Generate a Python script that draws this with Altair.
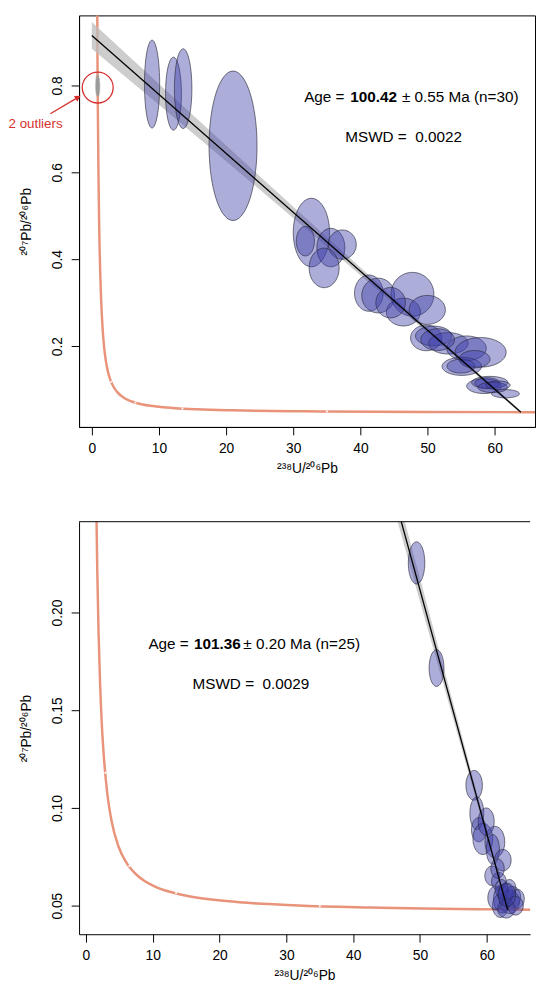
import altair as alt
import numpy as np
import pandas as pd

FONT = "Liberation Sans"

# ---------------- data ----------------
# concordia curve points (238U/206Pb, 207Pb/206Pb)
conc_x = [71.13, 63.97, 42.48, 31.74, 20.99, 15.62, 12.40, 10.25, 8.72, 7.57, 5.96, 4.89,
          3.82, 3.21, 2.75, 2.39, 2.11, 1.88, 1.69, 1.53, 1.39, 1.27, 1.16, 1.07, 0.99,
          0.92, 0.85, 0.81]
conc_y = [0.04783, 0.04804, 0.04907, 0.05013, 0.05236, 0.05472, 0.05724, 0.05994, 0.06278,
          0.06583, 0.07254, 0.08016, 0.09363, 0.10711, 0.12305, 0.14193, 0.16433, 0.19099,
          0.22275, 0.26066, 0.30597, 0.36019, 0.42520, 0.50322, 0.59698, 0.70978, 0.84565,
          0.97421]
# small white age ticks on the concordia
tick_x = [2.9, 6.5, 13.5, 35.0]
tick_y = [0.118, 0.0703, 0.0564, 0.0497]

# ---- panel A (n=30) ----
a_cx = [8.97, 12.16, 13.6, 21.03, 32.7, 31.8, 35.6, 37.3, 34.6, 41.25, 42.65, 47.75, 46.4,
        49.95, 49.8, 50.9, 53.1, 55.8, 57.9, 55.1, 54.97, 58.4, 59.26, 58.9, 61.6, 44.5,
        51.5, 57.0, 59.7, 60.5]
a_cy = [0.803, 0.781, 0.7925, 0.661, 0.4614, 0.4416, 0.4268, 0.4336, 0.380, 0.322, 0.3164,
        0.3193, 0.2784, 0.2834, 0.2189, 0.2234, 0.2064, 0.195, 0.1857, 0.1534, 0.154, 0.108,
        0.1164, 0.1148, 0.0905, 0.300, 0.215, 0.170, 0.105, 0.110]
a_rx = [1.13, 1.18, 1.3, 3.57, 2.7, 1.35, 2.08, 2.08, 2.23, 2.13, 2.45, 3.19, 2.53, 2.7, 2.33,
        2.7, 2.94, 2.94, 3.8, 2.94, 2.08, 2.57, 2.7, 1.84, 2.08, 2.2, 2.5, 2.3, 2.2, 1.8]
a_ry = [0.101, 0.084, 0.0917, 0.172, 0.0788, 0.034, 0.0443, 0.0337, 0.0455, 0.0417, 0.040,
        0.0504, 0.032, 0.0333, 0.0295, 0.0227, 0.0246, 0.0284, 0.034, 0.0208, 0.016, 0.017,
        0.014, 0.0125, 0.0095, 0.035, 0.025, 0.020, 0.012, 0.010]
# rejected outliers
out_cx = [0.85, 0.92]
out_cy = [0.800, 0.797]
out_rx = [0.22, 0.2]
out_ry = [0.023, 0.02]
a_line_x = [0.0, 63.9]
a_line_y = [0.915, 0.0479]
a_band_x = [0, 10, 20, 30, 40, 50, 60, 63.9]
a_band_lo = [0.884, 0.7553, 0.6256, 0.4949, 0.3632, 0.2305, 0.0968, 0.0449]
a_band_hi = [0.946, 0.8033, 0.6616, 0.5209, 0.3812, 0.2425, 0.1048, 0.0509]

# ---- panel B (n=25) ----
b_cx = [49.48, 52.47, 58.1, 58.5, 58.8, 59.4, 61.2, 60.9, 62.4, 60.8, 61.8, 62.3, 63.4, 63.8,
        62.8, 62.0, 64.6, 62.9, 61.3, 63.4, 64.3, 62.2, 59.9, 61.6, 63.0]
b_cy = [0.2254, 0.1716, 0.1116, 0.0973, 0.0889, 0.0842, 0.0826, 0.0788, 0.0733, 0.0653,
        0.0624, 0.0535, 0.052, 0.0545, 0.056, 0.050, 0.0535, 0.0485, 0.054, 0.0586, 0.050,
        0.0586, 0.093, 0.069, 0.0555]
b_rx = [1.23, 1.11, 1.23, 1.03, 1.1, 1.48, 1.48, 0.98, 1.23, 1.1, 1.1, 1.3, 1.5, 1.25,
        1.15, 1.15, 1.0, 1.3, 1.15, 0.95, 1.15, 0.95, 1.2, 1.0, 1.3]
b_ry = [0.0108, 0.0094, 0.0076, 0.0084, 0.0062, 0.008, 0.008, 0.0076, 0.0055, 0.005, 0.0046,
        0.0072, 0.006, 0.0054, 0.0054, 0.006, 0.0048, 0.0048, 0.006, 0.0048, 0.0048, 0.0048,
        0.007, 0.005, 0.006]
b_line_x = [46.0, 63.1]
b_line_y = [0.2614, 0.0480]
b_band_x = [46, 50, 55, 60, 63.1]
b_band_lo = [0.2544, 0.2055, 0.1451, 0.0847, 0.0470]
b_band_hi = [0.2684, 0.2175, 0.1531, 0.0887, 0.0490]

ELL_FILL = "#3c3ca8"
CONC_COL = "#e8937a"
RED = "#d7312f"


def ellipse_df(cx, cy, rx, ry, n=72):
    rows = []
    for i, (a, b, c, d) in enumerate(zip(cx, cy, rx, ry)):
        for k in range(n + 1):
            t = 2 * np.pi * k / n
            rows.append({"id": i, "k": k, "x": a + c * np.cos(t), "y": b + d * np.sin(t)})
    return pd.DataFrame(rows)


def axes(xdom, ydom, yvals, yfmt):
    xe = alt.X("x:Q", scale=alt.Scale(domain=xdom, nice=False, zero=False),
               axis=alt.Axis(values=[0, 10, 20, 30, 40, 50, 60], title="²³⁸U/²⁰⁶Pb",
                             grid=False, tickSize=8, labelPadding=7, titlePadding=6,
                             labelFontSize=14, titleFontSize=14, labelFont=FONT, titleFont=FONT,
                             titleFontWeight="normal", labelColor="black", titleColor="black",
                             domainColor="black", tickColor="black", labelFlush=False))
    ye = alt.Y("y:Q", scale=alt.Scale(domain=ydom, nice=False, zero=False),
               axis=alt.Axis(values=yvals, format=yfmt, title="²⁰⁷Pb/²⁰⁶Pb", grid=False,
                             tickSize=8, labelPadding=7, titlePadding=17, labelAngle=270,
                             labelAlign="center", labelBaseline="bottom",
                             labelFontSize=14, titleFontSize=14, labelFont=FONT, titleFont=FONT,
                             titleFontWeight="normal", labelColor="black", titleColor="black",
                             domainColor="black", tickColor="black", labelFlush=False))
    return xe, ye


def panel(xdom, ydom, yvals, yfmt, cx, cy, rx, ry, lx, ly, bx, blo, bhi, texts, extra=None):
    xe, ye = axes(xdom, ydom, yvals, yfmt)
    conc = pd.DataFrame({"x": conc_x, "y": conc_y})
    ticks = pd.DataFrame({"x": tick_x, "y": tick_y})
    band = pd.DataFrame({"x": bx, "y": blo, "y2": bhi})
    line = pd.DataFrame({"x": lx, "y": ly})
    ell = ellipse_df(cx, cy, rx, ry)

    layers = [
        alt.Chart(conc).mark_line(color=CONC_COL, strokeWidth=2.5, clip=True,
                                  interpolate="monotone").encode(x=xe, y=ye, order="x:Q"),
        alt.Chart(ticks).mark_point(shape="circle", filled=True, color="white", size=5,
                                    opacity=0.9).encode(x=xe, y=ye),
        alt.Chart(band).mark_area(color="#bcbcbc", opacity=0.75, clip=True).encode(
            x=xe, y=ye, y2="y2:Q"),
    ]
    if extra is not None:
        layers += extra(xe, ye)
    layers += [
        alt.Chart(ell).mark_line(fill=ELL_FILL, fillOpacity=0.42, stroke="#2a2a3a",
                                 strokeOpacity=0.65, strokeWidth=1, clip=True).encode(
            x=xe, y=ye, detail="id:N", order="k:Q"),
        alt.Chart(line).mark_line(color="black", strokeWidth=1.3, clip=True).encode(x=xe, y=ye),
    ]
    for (tx, ty, s, bold) in texts:
        layers.append(
            alt.Chart(pd.DataFrame({"x": [tx], "y": [ty], "t": [s]})).mark_text(
                align="left", baseline="middle", fontSize=15.5, font=FONT, color="black",
                fontWeight="bold" if bold else "normal").encode(x=xe, y=ye, text="t:N"))
    return alt.layer(*layers)


def outliers(xe, ye):
    oe = ellipse_df(out_cx, out_cy, out_rx, out_ry)
    circ = pd.DataFrame({"x": [0.88], "y": [0.795]})
    arrow = pd.DataFrame({"x": [-6.18], "y": [0.7348], "x2": [-2.05], "y2": [0.7725]})
    head = pd.DataFrame({"x": [-2.05], "y": [0.7725]})
    lab = pd.DataFrame({"x": [-8.38], "y": [0.7114], "t": ["2 outliers"]})
    return [
        alt.Chart(oe).mark_line(fill="#9a9a9a", fillOpacity=0.8, stroke="#9a9a9a",
                                strokeOpacity=0.5).encode(x=xe, y=ye, detail="id:N", order="k:Q"),
        alt.Chart(circ).mark_point(shape="circle", filled=False, color=RED, size=980,
                                   strokeWidth=1.3, opacity=1).encode(x=xe, y=ye),
        alt.Chart(arrow).mark_rule(color=RED, strokeWidth=1.3).encode(
            x=xe, y=ye, x2="x2:Q", y2="y2:Q"),
        alt.Chart(head).mark_point(shape="triangle-up", filled=True, color=RED, size=45,
                                   angle=59, opacity=1).encode(x=xe, y=ye),
        alt.Chart(lab).mark_text(align="center", baseline="middle", fontSize=13.5, font=FONT,
                                 color=RED).encode(x=xe, y=ye, text="t:N"),
    ]


NB = "\u00a0"
top = panel([-1.9, 66.0], [0.014, 0.961], [0.2, 0.4, 0.6, 0.8], ".1f",
            a_cx, a_cy, a_rx, a_ry, a_line_x, a_line_y, a_band_x, a_band_lo, a_band_hi,
            [(31.62, 0.7727, "Age =", False), (38.49, 0.7727, "100.42", True),
             (46.18, 0.7727, "± 0.55 Ma (n=30)", False),
             (37.74, 0.6818, "MSWD =" + NB + NB + "0.0022", False)],
            extra=outliers).properties(width=462, height=417)

bottom_border = alt.Chart(pd.DataFrame({"a": [0]})).mark_rule(color="black", strokeWidth=1).encode(
    x=alt.value(0), x2=alt.value(457), y=alt.value(0))

bottom = alt.layer(
    panel([-1.03, 66.47], [0.0354, 0.2465], [0.05, 0.10, 0.15, 0.20], ".2f",
          b_cx, b_cy, b_rx, b_ry, b_line_x, b_line_y, b_band_x, b_band_lo, b_band_hi,
          [(9.35, 0.184, "Age =", False), (16.17, 0.184, "101.36", True),
           (23.56, 0.184, "± 0.20 Ma (n=25)", False),
           (15.95, 0.1635, "MSWD =" + NB + NB + "0.0029", False)]),
    bottom_border,
).properties(width=457, height=418, view=alt.ViewBackground(stroke="transparent"))

chart = alt.vconcat(top, bottom, spacing=45).properties(
    padding={"left": 0, "top": 0, "right": 0, "bottom": 0}
).configure_view(stroke="black", strokeWidth=1).configure_axis(domainWidth=1, tickWidth=1)

chart.save("out.html", embed_options={"renderer": "svg", "actions": False})
